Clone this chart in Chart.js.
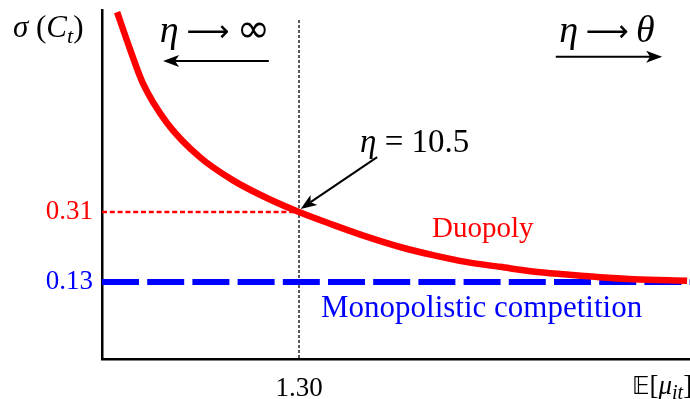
<!DOCTYPE html>
<html lang="en">
<head>
<meta charset="UTF-8">
<script src="https://cdn.jsdelivr.net/npm/chart.js"></script>
<title>Price dispersion: duopoly vs monopolistic competition</title>
<style>
  html, body { margin: 0; padding: 0; background: #fff; }
  #wrap { width: 690px; height: 399px; }
</style>
</head>
<body>
<div id="wrap"><canvas id="chart" width="690" height="399"></canvas></div>
<script>
// values
const muValues     = [1.023, 1.043, 1.062, 1.099, 1.149, 1.199, 1.251, 1.300, 1.352, 1.404, 1.454, 1.504, 1.556, 1.606, 1.656, 1.708, 1.758, 1.809, 1.891];
const duopolySigma = [0.824, 0.727, 0.642, 0.539, 0.451, 0.392, 0.346, 0.310, 0.277, 0.246, 0.220, 0.199, 0.181, 0.169, 0.157, 0.149, 0.142, 0.137, 0.133];
const monoSigma = 0.13;     // monopolistic competition
const markedSigma = 0.31;   // duopoly at eta = 10.5
const markedMu = 1.30;
const yTickValues = [0.13, 0.31];
const xTickValues = [1.30];

const X_MIN = 1.0, X_MAX = 1.8954;
const Y_MIN = -0.068, Y_MAX = 0.8294;

const SERIF = "'Liberation Serif', 'DejaVu Serif', 'DejaVu Sans', serif";
const SYM = "'DejaVu Sans', 'Liberation Serif', serif";
const RED = '#ff0000', BLUE = '#0000ff';

function font(size, italic, family) {
  return (italic ? 'italic ' : '') + size + 'px ' + (family || SERIF);
}

// draw a row of text pieces: [text, size, italic, dy, family]
function drawRuns(ctx, x, y, parts, align) {
  let w = 0;
  parts.forEach(p => { ctx.font = font(p[1], p[2], p[4]); w += ctx.measureText(p[0]).width; });
  let cx = align === 'center' ? x - w / 2 : align === 'right' ? x - w : x;
  ctx.textAlign = 'left';
  ctx.textBaseline = 'alphabetic';
  parts.forEach(p => {
    ctx.font = font(p[1], p[2], p[4]);
    ctx.fillText(p[0], cx, y + (p[3] || 0));
    cx += ctx.measureText(p[0]).width;
  });
}

function arrow(ctx, x1, y1, x2, y2) {
  const a = Math.atan2(y2 - y1, x2 - x1);
  const len = 16, half = 6, notch = 4;
  ctx.save();
  ctx.strokeStyle = '#000';
  ctx.fillStyle = '#000';
  ctx.lineWidth = 2;
  ctx.beginPath();
  ctx.moveTo(x1, y1);
  ctx.lineTo(x2 - Math.cos(a) * (len - notch), y2 - Math.sin(a) * (len - notch));
  ctx.stroke();
  ctx.translate(x2, y2);
  ctx.rotate(a);
  ctx.beginPath();
  ctx.moveTo(0, 0);
  ctx.quadraticCurveTo(-len * 0.5, -half * 0.5, -len, -half);
  ctx.lineTo(-len + notch, 0);
  ctx.lineTo(-len, half);
  ctx.quadraticCurveTo(-len * 0.5, half * 0.5, 0, 0);
  ctx.fill();
  ctx.restore();
}

const annotations = {
  id: 'annotations',
  afterDatasetsDraw(chart) {
    const ctx = chart.ctx;
    const xs = chart.scales.x, ys = chart.scales.y;
    const X = v => xs.getPixelForValue(v), Y = v => ys.getPixelForValue(v);
    ctx.save();
    ctx.fillStyle = '#000';

    // axis titles
    drawRuns(ctx, 13, 37, [['σ', 31, true], [' (', 31, false], ['C', 31, true], ['t', 22, true, 6], [')', 31, false]], 'left');
    drawRuns(ctx, 632, 394, [['𝔼', 24, false, 0, SYM], ['[', 27, false], ['μ', 27, true], ['it', 20, true, 5], [']', 27, false]], 'left');

    // direction labels
    drawRuns(ctx, X(1.172), Y(0.747), [['η', 38, true], [' ', 30, false], ['⟶', 30, false, -1, SYM], [' ', 30, false], ['∞', 40, false, 0, SYM]], 'center');
    arrow(ctx, X(1.254), Y(0.698), X(1.093), Y(0.698));
    drawRuns(ctx, X(1.769), Y(0.747), [['η', 38, true], [' ', 30, false], ['⟶', 30, false, -1, SYM], [' ', 30, false], ['θ', 38, true]], 'center');
    arrow(ctx, X(1.691), Y(0.709), X(1.853), Y(0.709));

    // marked point
    drawRuns(ctx, X(1.393), Y(0.464), [['η', 33, true], [' = 10.5', 33, false]], 'left');
    arrow(ctx, X(1.419), Y(0.451), X(1.3025), Y(0.318));

    // series labels
    ctx.fillStyle = RED;
    drawRuns(ctx, X(1.5025), Y(0.246), [['Duopoly', 29, false]], 'left');
    ctx.fillStyle = BLUE;
    drawRuns(ctx, X(1.3335), Y(0.040), [['Monopolistic competition', 31, false]], 'left');
    ctx.restore();
  }
};

const ctx = document.getElementById('chart').getContext('2d');
new Chart(ctx, {
  type: 'line',
  data: {
    datasets: [
      {
        label: 'Duopoly',
        data: muValues.map((m, i) => ({ x: m, y: duopolySigma[i] })),
        borderColor: RED,
        borderWidth: 6.5,
        pointRadius: 0,
        cubicInterpolationMode: 'monotone',
        clip: false,
        order: 0
      },
      {
        label: 'Monopolistic competition',
        data: [{ x: X_MIN, y: monoSigma }, { x: X_MAX, y: monoSigma }],
        borderColor: BLUE,
        borderWidth: 6,
        borderDash: [37, 8.2],
        borderCapStyle: 'butt',
        pointRadius: 0,
        order: 1
      },
      {
        label: 'sigma guide',
        data: [{ x: X_MIN, y: markedSigma }, { x: markedMu, y: markedSigma }],
        borderColor: RED,
        borderWidth: 2.5,
        borderDash: [5, 2.8],
        pointRadius: 0,
        order: 2
      },
      {
        label: 'mu guide',
        data: [{ x: markedMu, y: 0.804 }, { x: markedMu, y: Y_MIN }],
        borderColor: '#000',
        borderWidth: 1.3,
        borderDash: [3, 2],
        pointRadius: 0,
        order: 3
      }
    ]
  },
  options: {
    responsive: false,
    animation: false,
    devicePixelRatio: 1,
    layout: { padding: { top: 10, right: 0, left: 0, bottom: 0 } },
    plugins: { legend: { display: false }, tooltip: { enabled: false } },
    scales: {
      x: {
        type: 'linear',
        min: X_MIN,
        max: X_MAX,
        grid: { display: false, drawTicks: false },
        border: { display: true, color: '#000', width: 2.5 },
        afterBuildTicks: s => { s.ticks = xTickValues.map(v => ({ value: v })); },
        afterFit: s => { s.height = 40; s.paddingLeft = 0; s.paddingRight = 0; },
        ticks: {
          padding: 14,
          color: '#000',
          font: { family: SERIF, size: 27 },
          callback: v => v.toFixed(2)
        }
      },
      y: {
        type: 'linear',
        min: Y_MIN,
        max: Y_MAX,
        grid: { display: false, drawTicks: false },
        border: { display: true, color: '#000', width: 2.5 },
        afterBuildTicks: s => { s.ticks = yTickValues.map(v => ({ value: v })); },
        afterFit: s => { s.width = 102; s.paddingTop = 0; s.paddingBottom = 0; },
        ticks: {
          padding: 9,
          color: c => (c.tick && c.tick.value === monoSigma ? BLUE : RED),
          font: { family: SERIF, size: 27 },
          callback: v => v.toFixed(2)
        }
      }
    }
  },
  plugins: [annotations]
});
</script>
</body>
</html>
